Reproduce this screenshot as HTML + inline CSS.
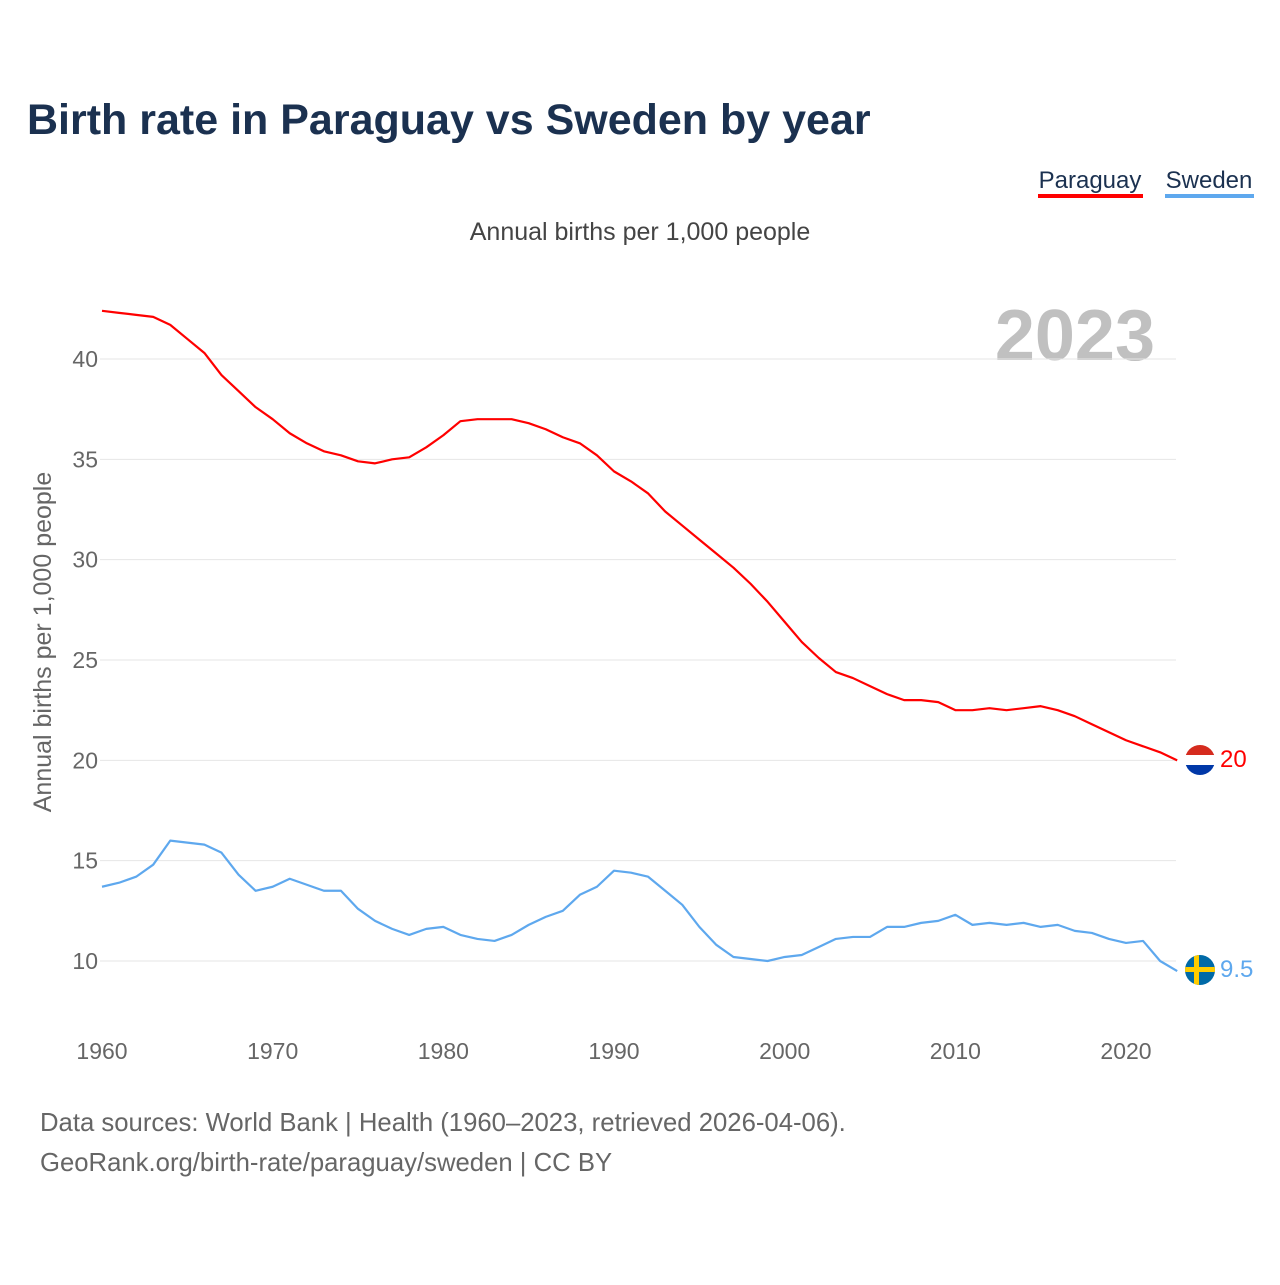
<!DOCTYPE html>
<html><head><meta charset="utf-8"><style>
body{margin:0;background:#fff;font-family:"Liberation Sans",sans-serif;}
</style></head><body>
<svg width="1280" height="1280" xmlns="http://www.w3.org/2000/svg" style="font-family:'Liberation Sans',sans-serif">
<text x="27" y="134" font-size="43" font-weight="bold" fill="#1b3150">Birth rate in Paraguay vs Sweden by year</text>
<g><text x="1090" y="188" font-size="24" fill="#1b3150" text-anchor="middle">Paraguay</text><rect x="1038" y="194" width="105" height="4" fill="#ff0000"/></g>
<g><text x="1209" y="188" font-size="24" fill="#1b3150" text-anchor="middle">Sweden</text><rect x="1165" y="194" width="89" height="4" fill="#5ea8ee"/></g>
<text x="640" y="240" font-size="25" fill="#444" text-anchor="middle">Annual births per 1,000 people</text>
<text x="1155" y="360" font-size="72" font-weight="bold" fill="#c0c0c0" text-anchor="end">2023</text>
<text transform="translate(51,642) rotate(-90)" font-size="25" fill="#666" text-anchor="middle">Annual births per 1,000 people</text>
<g id="grid"></g><g id="yt"></g><g id="xt"></g><g id="lines"></g>
<g>
<clipPath id="cp1"><circle cx="1200" cy="760" r="15"/></clipPath>
<g clip-path="url(#cp1)"><rect x="1185" y="745" width="30" height="10" fill="#d52b1e"/><rect x="1185" y="755" width="30" height="10" fill="#fff"/><rect x="1185" y="765" width="30" height="10" fill="#0038a8"/></g>
<text x="1220" y="767" font-size="24" fill="#ff0000">20</text></g>
<g>
<clipPath id="cp2"><circle cx="1200" cy="970" r="15"/></clipPath>
<g clip-path="url(#cp2)"><rect x="1185" y="955" width="30" height="30" fill="#006aa7"/><rect x="1194" y="955" width="5" height="30" fill="#fecc00"/><rect x="1185" y="967" width="30" height="5" fill="#fecc00"/></g>
<text x="1220" y="977" font-size="24" fill="#5ea8ee">9.5</text></g>
<text x="40" y="1131" font-size="25.7" fill="#666">Data sources: World Bank | Health (1960–2023, retrieved 2026-04-06).</text>
<text x="40" y="1171" font-size="25.7" fill="#666">GeoRank.org/birth-rate/paraguay/sweden | CC BY</text>
</svg>
<script>
const startYear=1960;
const paraguay=[42.4,42.3,42.2,42.1,41.7,41.0,40.3,39.2,38.4,37.6,37.0,36.3,35.8,35.4,35.2,34.9,34.8,35.0,35.1,35.6,36.2,36.9,37.0,37.0,37.0,36.8,36.5,36.1,35.8,35.2,34.4,33.9,33.3,32.4,31.7,31.0,30.3,29.6,28.8,27.9,26.9,25.9,25.1,24.4,24.1,23.7,23.3,23.0,23.0,22.9,22.5,22.5,22.6,22.5,22.6,22.7,22.5,22.2,21.8,21.4,21.0,20.7,20.4,20.0];
const sweden=[13.7,13.9,14.2,14.8,16.0,15.9,15.8,15.4,14.3,13.5,13.7,14.1,13.8,13.5,13.5,12.6,12.0,11.6,11.3,11.6,11.7,11.3,11.1,11.0,11.3,11.8,12.2,12.5,13.3,13.7,14.5,14.4,14.2,13.5,12.8,11.7,10.8,10.2,10.1,10.0,10.2,10.3,10.7,11.1,11.2,11.2,11.7,11.7,11.9,12.0,12.3,11.8,11.9,11.8,11.9,11.7,11.8,11.5,11.4,11.1,10.9,11.0,10.0,9.5];
const yTicks=[10,15,20,25,30,35,40];
const xTicks=[1960,1970,1980,1990,2000,2010,2020];
const NS="http://www.w3.org/2000/svg";
const x=yr=>102+(yr-1960)*(1126-102)/60;
const y=v=>961-(v-10)*(961-359)/30;
function mk(t,a,p){const e=document.createElementNS(NS,t);for(const k in a)e.setAttribute(k,a[k]);document.getElementById(p).appendChild(e);return e;}
yTicks.forEach(v=>{
 const l=mk('line',{x1:100,x2:1176,y1:y(v),y2:y(v),stroke:'#e6e6e6','stroke-width':1},'grid');
 
 
 const t=mk('text',{x:98,y:y(v)+8,'font-size':23,fill:'#666','text-anchor':'end'},'yt');t.textContent=v;
 
 
});
xTicks.forEach(v=>{
 const t=mk('text',{x:x(v),y:1059,'font-size':23,fill:'#666','text-anchor':'middle'},'xt');t.textContent=v;
 
 
});
function line(d,c,n){
 const p=mk('polyline',{points:d.map((v,i)=>x(startYear+i)+','+y(v)).join(' '),fill:'none',stroke:c,'stroke-width':2.2,'stroke-linejoin':'round'},'lines');
 
 
}
line(sweden,'#5ea8ee','sweden-line');
line(paraguay,'#ff0000','paraguay-line');
</script>
</body></html>
